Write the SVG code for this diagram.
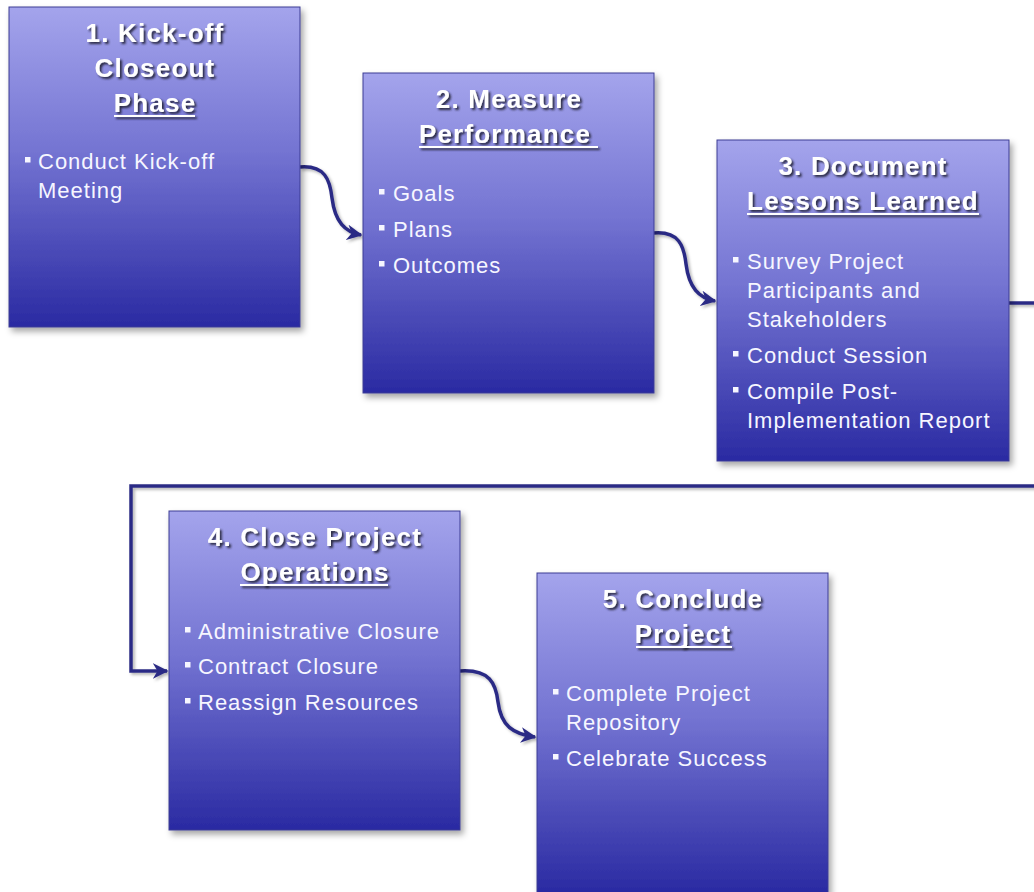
<svg xmlns="http://www.w3.org/2000/svg" width="1034" height="892" viewBox="0 0 1034 892">
<defs>
<linearGradient id="boxGrad" x1="0" y1="0" x2="0" y2="1">
<stop offset="0" stop-color="#a4a4ec"/>
<stop offset="0.45" stop-color="#7474d2"/>
<stop offset="1" stop-color="#2a2aa2"/>
</linearGradient>
<filter id="boxShadow" x="-10%" y="-10%" width="125%" height="125%">
<feDropShadow dx="3" dy="4" stdDeviation="3" flood-color="#000" flood-opacity="0.35"/>
</filter>
<filter id="textShadow" filterUnits="userSpaceOnUse" x="0" y="0" width="1034" height="892">
<feDropShadow dx="2" dy="2" stdDeviation="1.2" flood-color="#1a1a33" flood-opacity="0.9"/>
</filter>
<filter id="lineShadow" filterUnits="userSpaceOnUse" x="0" y="0" width="1034" height="892">
<feDropShadow dx="2" dy="2" stdDeviation="1.5" flood-color="#000" flood-opacity="0.3"/>
</filter>
<marker id="arrow" viewBox="0 0 10 10" refX="9" refY="5" markerWidth="4.5" markerHeight="4.5" orient="auto" markerUnits="strokeWidth">
<path d="M0,0 L10,5 L0,10 L3,5 Z" fill="#2b2b85"/>
</marker>
<style>
.box { fill: url(#boxGrad); stroke: #3c3c94; stroke-width: 1; filter: url(#boxShadow); }
.title { font-family: "Liberation Sans", Arial, sans-serif; font-weight: bold; font-size: 26px; letter-spacing: 1.2px; fill: #ffffff; text-anchor: middle; filter: url(#textShadow); }
.uline { fill: #ffffff; filter: url(#textShadow); }
.body { font-family: "Liberation Sans", Arial, sans-serif; font-size: 22px; letter-spacing: 1px; fill: #f6f6ff; }
.bullet { fill: #f6f6ff; }
.conn { fill: none; stroke: #2b2b85; stroke-width: 3.5; filter: url(#lineShadow); }
</style>
</defs>
<rect x="0" y="0" width="1034" height="892" fill="#ffffff"/>

<g id="connectors">
<path class="conn" d="M300,167 C325,165 330,180 332,198 C335,222 345,232 361,235" marker-end="url(#arrow)"/>
<path class="conn" d="M654,233 C679,231 684,246 686,264 C689,288 699,298 715,301" marker-end="url(#arrow)"/>
<path class="conn" d="M460,671 C490,669 496,684 498,702 C501,726 513,734 535,737" marker-end="url(#arrow)"/>
<path class="conn" d="M1009,303 L1040,303 M1040,486 L131,486 L131,671 L167,671" marker-end="url(#arrow)"/>
</g>

<g id="node1">
<rect class="box" x="9" y="7" width="291" height="320"/>
<text class="title" x="155" y="42">1. Kick-off</text>
<text class="title" x="155" y="77">Closeout</text>
<text class="title" x="155" y="112">Phase</text>
<rect class="uline" x="114" y="115" width="81" height="2"/>
<rect class="bullet" x="25" y="157" width="5.5" height="5.5"/>
<text class="body" x="38" y="169">Conduct Kick-off</text>
<text class="body" x="38" y="198">Meeting</text>
</g>

<g id="node2">
<rect class="box" x="363" y="73" width="291" height="320"/>
<text class="title" x="509" y="108">2. Measure</text>
<text class="title" x="505" y="143">Performance</text>
<rect class="uline" x="419" y="146" width="179" height="2"/>
<rect class="bullet" x="379" y="189" width="5.5" height="5.5"/>
<text class="body" x="393" y="201">Goals</text>
<rect class="bullet" x="379" y="225" width="5.5" height="5.5"/>
<text class="body" x="393" y="237">Plans</text>
<rect class="bullet" x="379" y="261" width="5.5" height="5.5"/>
<text class="body" x="393" y="273">Outcomes</text>
</g>

<g id="node3">
<rect class="box" x="717" y="140" width="292" height="321"/>
<text class="title" x="863" y="175">3. Document</text>
<text class="title" x="863" y="210">Lessons Learned</text>
<rect class="uline" x="747" y="213" width="232" height="2"/>
<rect class="bullet" x="733" y="257" width="5.5" height="5.5"/>
<text class="body" x="747" y="269">Survey Project</text>
<text class="body" x="747" y="298">Participants and</text>
<text class="body" x="747" y="327">Stakeholders</text>
<rect class="bullet" x="733" y="351" width="5.5" height="5.5"/>
<text class="body" x="747" y="363">Conduct Session</text>
<rect class="bullet" x="733" y="387" width="5.5" height="5.5"/>
<text class="body" x="747" y="399">Compile Post-</text>
<text class="body" x="747" y="428">Implementation Report</text>
</g>

<g id="node4">
<rect class="box" x="169" y="511" width="291" height="319"/>
<text class="title" x="315" y="546">4. Close Project</text>
<text class="title" x="315" y="581">Operations</text>
<rect class="uline" x="240" y="584" width="148" height="2"/>
<rect class="bullet" x="185" y="627" width="5.5" height="5.5"/>
<text class="body" x="198" y="639">Administrative Closure</text>
<rect class="bullet" x="185" y="662" width="5.5" height="5.5"/>
<text class="body" x="198" y="674">Contract Closure</text>
<rect class="bullet" x="185" y="698" width="5.5" height="5.5"/>
<text class="body" x="198" y="710">Reassign Resources</text>
</g>

<g id="node5">
<rect class="box" x="537" y="573" width="291" height="320"/>
<text class="title" x="683" y="608">5. Conclude</text>
<text class="title" x="683" y="643">Project</text>
<rect class="uline" x="636" y="646" width="96" height="2"/>
<rect class="bullet" x="553" y="689" width="5.5" height="5.5"/>
<text class="body" x="566" y="701">Complete Project</text>
<text class="body" x="566" y="730">Repository</text>
<rect class="bullet" x="553" y="754" width="5.5" height="5.5"/>
<text class="body" x="566" y="766">Celebrate Success</text>
</g>
</svg>
